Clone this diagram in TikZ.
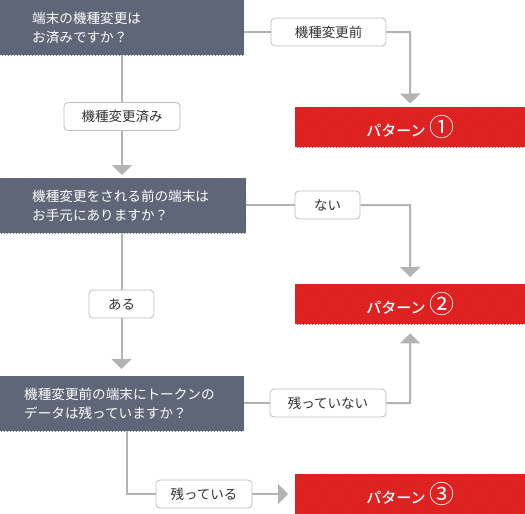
\documentclass[tikz,border=0pt]{standalone}
\usepackage{fontspec}
\setmainfont{Noto Sans CJK JP}
\newfontfamily\jpmed{Noto Sans CJK JP Medium}
\usetikzlibrary{arrows.meta,patterns,positioning}
\definecolor{qgray}{HTML}{5B6374}
\definecolor{qstripe}{HTML}{666E7F}
\definecolor{pred}{HTML}{DC1D1D}
\definecolor{pstripe}{HTML}{E52B2B}
\definecolor{conn}{HTML}{B3B3B3}
\definecolor{lblborder}{HTML}{BDBDBD}
\definecolor{lbltext}{HTML}{333333}
\tikzset{
  qbox/.style={anchor=north west, minimum width=244pt, minimum height=55pt,
    inner ysep=0pt, text=white, align=left,
    font=\fontsize{13.6}{19.5}\selectfont,
    preaction={fill=qgray}, pattern={north east lines}, pattern color=qstripe},
  pbox/.style={anchor=north west, minimum width=230pt, minimum height=40pt,
    inner sep=0pt, text=white, font=\fontsize{15}{18}\selectfont\jpmed,
    preaction={fill=pred}, pattern={north east lines}, pattern color=pstripe},
  lbl/.style={draw=lblborder, fill=white, rounded corners=4pt, line width=0.8pt,
    minimum height=28pt, inner xsep=0pt, text=lbltext,
    font=\fontsize{13.5}{16}\selectfont},
  conn/.style={draw=conn, line width=2pt},
  arr/.style={conn, -{Triangle[width=20pt,length=10pt]}, conn}
}
\newcommand{\circnum}[1]{{\fontsize{25}{25}\selectfont\rmfamily #1}}
\begin{document}
\begin{tikzpicture}[x=1pt,y=-1pt]
\useasboundingbox (0,0) rectangle (525,514);
% question boxes
\node[qbox, text width=180pt, inner xsep=32pt] (b1) at (0,0) {端末の機種変更は\\お済みですか？};
\node[qbox, text width=182pt, inner xsep=32pt] (b2) at (0,178) {機種変更をされる前の端末は\\お手元にありますか？};
\node[qbox, text width=196pt, inner xsep=24pt] (b3) at (0,376) {機種変更前の端末にトークンの\\データは残っていますか？};
% result boxes
\node[pbox] (p1) at (295,107) {パターン \circnum{①}};
\node[pbox] (p2) at (295,284) {パターン \circnum{②}};
\node[pbox] (p3) at (295,474) {パターン \circnum{③}};
% labels
\node[lbl, minimum width=115pt] (l1) at (328.5,32) {機種変更前};
\node[lbl, minimum width=116pt] (l2) at (122,116.5) {機種変更済み};
\node[lbl, minimum width=65pt] (l3) at (327.5,205) {ない};
\node[lbl, minimum width=65pt] (l4) at (121.5,304) {ある};
\node[lbl, minimum width=116pt] (l5) at (328,403) {残っていない};
\node[lbl, minimum width=96pt] (l6) at (204,494) {残っている};
\coordinate (c1) at (410,32);
\coordinate (c3) at (410,205);
\coordinate (c5) at (410,403);
\coordinate (c6) at (127,494);
% connectors
\draw[conn] (b1.east |- l1.west) -- (l1.west);
\draw[arr, shorten >=3.5pt] (l1.east) -- (c1) -- (p1.north);
\draw[conn] (b1.south -| l2.north) -- (l2.north);
\draw[arr, shorten >=3pt] (l2.south) -- (b2.north -| l2.south);
\draw[conn] (b2.east |- l3.west) -- (l3.west);
\draw[arr, shorten >=7pt] (l3.east) -- (c3) -- (p2.north);
\draw[conn] (b2.south -| l4.north) -- (l4.north);
\draw[arr, shorten >=7pt] (l4.south) -- (b3.north -| l4.south);
\draw[conn] (b3.east |- l5.west) -- (l5.west);
\draw[arr, shorten >=9pt] (l5.east) -- (c5) -- (p2.south);
\draw[conn] (b3.south -| c6) -- (c6) -- (l6.west);
\draw[arr, shorten >=7pt] (l6.east) -- (p3.west |- l6.east);
\end{tikzpicture}
\end{document}
